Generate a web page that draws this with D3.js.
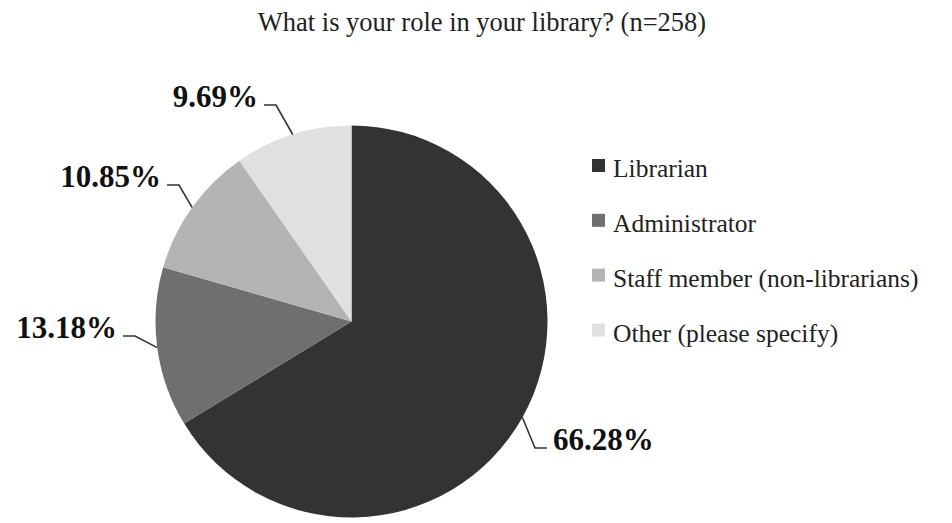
<!DOCTYPE html>
<html>
<head>
<meta charset="utf-8">
<script src="https://cdn.jsdelivr.net/npm/d3@7"></script>
<style>
  html, body { margin: 0; padding: 0; background: #fff; }
  svg { display: block; }
  text { font-family: "Liberation Serif", "Times New Roman", serif; }
</style>
</head>
<body>
<svg id="chart" width="952" height="523"></svg>
<script>
// Survey responses: role in the library (n=258)
const roles = ["Librarian", "Administrator", "Staff member (non-librarians)", "Other (please specify)"];
const shares = [66.28, 13.18, 10.85, 9.69];
const shadeList = ["#333333", "#6f6f6f", "#b4b4b4", "#e0e0e0"];
const titleText = "What is your role in your library? (n=258)";

// Callout text placement (baseline point + anchor) for each slice label
const calloutPlace = [
  { x: 553, y: 450, anchor: "start" },
  { x: 117, y: 338, anchor: "end" },
  { x: 161, y: 187, anchor: "end" },
  { x: 258, y: 107, anchor: "end" }
];

const svg = d3.select("#chart");
const cx = 351.5, cy = 321.5, radius = 196;

svg.append("text")
  .attr("x", 482).attr("y", 31)
  .attr("text-anchor", "middle")
  .attr("font-size", 26.5)
  .attr("fill", "#222")
  .text(titleText);

const color = d3.scaleOrdinal().domain(roles).range(shadeList);

const pie = d3.pie().sort(null).value(d => d.value);
const arcs = pie(roles.map((r, i) => ({ role: r, value: shares[i] })));

const arc = d3.arc().innerRadius(0).outerRadius(radius);
const rim = d3.arc().innerRadius(radius).outerRadius(radius);

const g = svg.append("g").attr("transform", `translate(${cx},${cy})`);

g.selectAll("path.slice")
  .data(arcs)
  .join("path")
  .attr("class", "slice")
  .attr("d", arc)
  .attr("fill", d => color(d.data.role));

// Leader lines: rim point -> elbow -> short horizontal run to the label
const lines = svg.append("g");
arcs.forEach((d, i) => {
  const [px, py] = rim.centroid(d);
  const p0 = [cx + px, cy + py];
  const place = calloutPlace[i];
  const dir = place.anchor === "start" ? -1 : 1;
  const ly = place.y - 2;
  const end = [place.x + dir * 6, ly];
  const elbow = [place.x + dir * 18, ly];
  lines.append("polyline")
    .attr("points", [p0, elbow, end].map(p => p.join(",")).join(" "))
    .attr("fill", "none")
    .attr("stroke", "#333")
    .attr("stroke-width", 1.6);
  svg.append("text")
    .attr("x", place.x).attr("y", place.y)
    .attr("text-anchor", place.anchor)
    .attr("font-size", 31)
    .attr("font-weight", "bold")
    .attr("fill", "#111")
    .text(d3.format(".2f")(d.data.value) + "%");
});

// Legend
const legend = svg.append("g").attr("transform", "translate(592,0)");
const rowY = d3.scalePoint().domain(roles).range([177, 341.5]);
const rows = legend.selectAll("g.row")
  .data(roles)
  .join("g")
  .attr("class", "row")
  .attr("transform", d => `translate(0,${rowY(d)})`);
rows.append("rect")
  .attr("x", 0).attr("y", -18)
  .attr("width", 13).attr("height", 13)
  .attr("fill", d => color(d));
rows.append("text")
  .attr("x", 21).attr("y", 0)
  .attr("font-size", 25.5)
  .attr("fill", "#222")
  .text(d => d);
</script>
</body>
</html>
